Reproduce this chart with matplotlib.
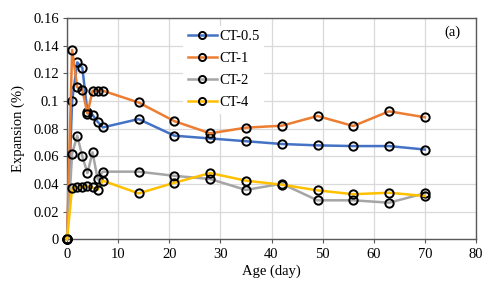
import matplotlib.pyplot as plt
from matplotlib.ticker import FuncFormatter

days = [0, 1, 2, 3, 4, 5, 6, 7, 14, 21, 28, 35, 42, 49, 56, 63, 70]

ct_05 = [0, 0.100, 0.128, 0.124, 0.092, 0.090, 0.085, 0.081, 0.087,
         0.075, 0.073, 0.071, 0.069, 0.068, 0.0675, 0.0675, 0.065]
ct_1 = [0, 0.137, 0.110, 0.108, 0.091, 0.1075, 0.1075, 0.1075, 0.099,
        0.0855, 0.0767, 0.0808, 0.0822, 0.0892, 0.082, 0.0926, 0.0883]
ct_2 = [0, 0.062, 0.075, 0.060, 0.048, 0.063, 0.0435, 0.049, 0.049,
        0.046, 0.0437, 0.0358, 0.0403, 0.0283, 0.0283, 0.0266, 0.0334]
ct_4 = [0, 0.0374, 0.0376, 0.038, 0.0386, 0.0376, 0.036, 0.0425, 0.0333,
        0.041, 0.048, 0.0425, 0.0396, 0.0355, 0.0327, 0.0338, 0.0314]

labels = ['CT-0.5', 'CT-1', 'CT-2', 'CT-4']
colors = ['#4472C4', '#ED7D31', '#A5A5A5', '#FFC000']

plt.rcParams['font.family'] = ['Liberation Serif', 'DejaVu Serif']

fig = plt.figure(figsize=(5, 2.91), dpi=100)
ax = fig.add_axes([0.134, 0.177, 0.818, 0.761])

for series, lab, col in zip([ct_05, ct_1, ct_2, ct_4], labels, colors):
    ax.plot(days, series, color=col, lw=1.8, label=lab, marker='o', ms=6,
            mfc='none', mec='black', mew=1.4, clip_on=False, zorder=3)

ax.set_xlim(0, 80)
ax.set_ylim(0, 0.16)
ax.set_xticks(range(0, 81, 10))
ax.set_yticks([i * 0.02 for i in range(9)])
ax.yaxis.set_major_formatter(FuncFormatter(lambda v, p: ('%.2f' % v).rstrip('0').rstrip('.')))
ax.grid(color='#D9D9D9', lw=0.9)
ax.set_axisbelow(True)
for s in ax.spines.values():
    s.set_color('#595959')
    s.set_linewidth(1.0)
ax.tick_params(labelsize=10.5, length=3, color='#595959', pad=3)

ax.set_xlabel('Age (day)', fontsize=10.5, labelpad=3)
ax.set_ylabel('Expansion (%)', fontsize=10.5, labelpad=6)
ax.text(75.3, 0.15, '(a)', fontsize=10.5, ha='center', va='center')

leg = ax.legend(loc='upper left', bbox_to_anchor=(0.284, 0.965), frameon=True,
                fontsize=10.5, handlelength=2.0, handletextpad=0.2,
                labelspacing=0.6, borderpad=0.3, borderaxespad=0,
                markerscale=0.85)
leg.get_frame().set_edgecolor('none')
leg.get_frame().set_facecolor('white')
leg.get_frame().set_alpha(1)
leg.get_frame().set_boxstyle('square', pad=0)

plt.savefig('out.png', dpi=100)
